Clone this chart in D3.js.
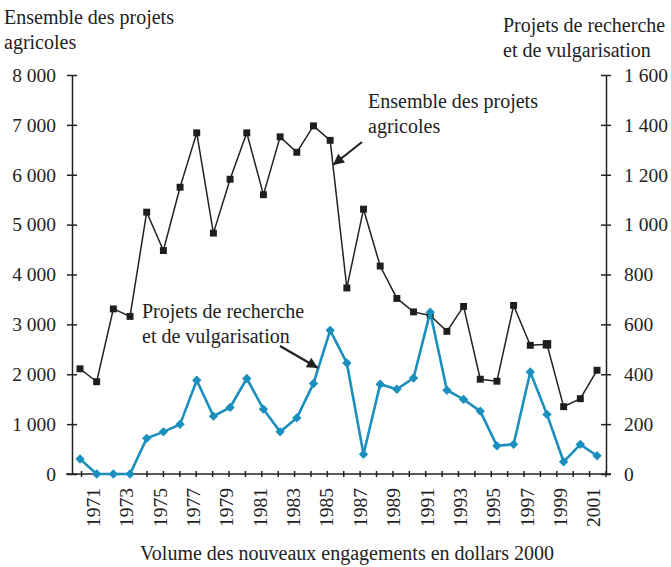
<!DOCTYPE html>
<html>
<head>
<meta charset="utf-8">
<script src="https://cdn.jsdelivr.net/npm/d3@7.9.0/dist/d3.min.js"></script>
<style>
  body { margin: 0; background: #fff; }
  svg { display: block; font-family: "Liberation Serif", "DejaVu Serif", serif; }
  text { fill: #222; }
</style>
</head>
<body>
<svg id="chart" width="671" height="567"></svg>
<script>
const years = [1970, 1971, 1972, 1973, 1974, 1975, 1976, 1977, 1978, 1979,
  1980, 1981, 1982, 1983, 1984, 1985, 1986, 1987, 1988, 1989,
  1990, 1991, 1992, 1993, 1994, 1995, 1996, 1997, 1998, 1999,
  2000, 2001];

// ensemble des projets agricoles (axe de gauche)
const agricoles = [2110, 1850, 3310, 3160, 5250, 4480, 5750, 6840, 4830, 5910,
  6840, 5600, 6760, 6450, 6980, 6690, 3730, 5310, 4170, 3520,
  3250, 3180, 2860, 3360, 1900, 1860, 3380, 2580, 2600, 1350,
  1510, 2080];

// projets de recherche et de vulgarisation (axe de droite)
const recherche = [60, 0, 0, 0, 143, 169, 199, 376, 232, 267,
  383, 260, 169, 225, 363, 576, 445, 79, 360, 340,
  385, 649, 336, 299, 252, 113, 119, 409, 239, 49,
  119, 73];

const leftTicks = [0, 1000, 2000, 3000, 4000, 5000, 6000, 7000, 8000];
const rightTicks = [0, 200, 400, 600, 800, 1000, 1200, 1400, 1600];
const labelYears = [1971, 1973, 1975, 1977, 1979, 1981, 1983, 1985, 1987, 1989,
  1991, 1993, 1995, 1997, 1999, 2001];

const fr = d3.formatLocale({ decimal: ',', thousands: '\u00a0', grouping: [3], currency: ['', ' €'] });
const fmt = fr.format(',d');

const svg = d3.select('#chart');
const ink = '#222';

const x = d3.scaleLinear().domain([1970, 2001]).range([80, 597]);
const xTick = d3.scaleLinear().domain([1970, 2002]).range([81, 605.5]);
const yL = d3.scaleLinear().domain([0, 8000]).range([474, 75]);
const yR = d3.scaleLinear().domain([0, 1600]).range([474, 75]);

// axe gauche
const gL = svg.append('g')
  .attr('transform', 'translate(72,0)')
  .call(d3.axisLeft(yL).tickValues(leftTicks).tickFormat(fmt)
    .tickSize(5).tickSizeOuter(0).tickPadding(11));
gL.selectAll('.tick line').attr('x1', 5);

// axe droit
const gR = svg.append('g')
  .attr('transform', 'translate(606,0)')
  .call(d3.axisRight(yR).tickValues(rightTicks).tickFormat(fmt)
    .tickSize(5).tickSizeOuter(0).tickPadding(13));
gR.selectAll('.tick line').attr('x1', -5);

// axe du bas
const gB = svg.append('g')
  .attr('transform', 'translate(0,474)')
  .call(d3.axisBottom(xTick).tickValues(d3.range(1970, 2003)).tickFormat('')
    .tickSize(3).tickSizeOuter(0));
gB.select('.domain').remove();
gB.selectAll('.tick line').attr('y1', -3);
gB.append('line')
  .attr('x1', 66).attr('x2', 611)
  .attr('stroke', ink).attr('stroke-width', 1.5);

const gLab = svg.append('g')
  .attr('transform', 'translate(0,474)')
  .call(d3.axisBottom(x).tickValues(labelYears).tickFormat(d3.format('d')).tickSize(0));
gLab.select('.domain').remove();
gLab.selectAll('.tick text')
  .attr('transform', 'rotate(-90)')
  .attr('text-anchor', 'end')
  .attr('x', -14)
  .attr('y', -4)
  .attr('dy', '0.35em');

svg.selectAll('.domain, .tick line').attr('stroke', ink).attr('stroke-width', 1.5);
svg.selectAll('.tick text')
  .attr('fill', ink)
  .style('font-family', '"Liberation Serif", serif')
  .style('font-size', '19.5px');

// série agricoles
const lineL = d3.line().x((d, i) => x(years[i])).y(d => yL(d));
svg.append('path')
  .datum(agricoles)
  .attr('d', lineL)
  .attr('fill', 'none')
  .attr('stroke', ink)
  .attr('stroke-width', 1.5);

svg.append('g').selectAll('path')
  .data(agricoles)
  .join('path')
  .attr('transform', (d, i) => `translate(${x(years[i])},${yL(d)})`)
  .attr('d', (d, i) => d3.symbol(d3.symbolSquare, years[i] === 1998 ? 72 : 48)())
  .attr('fill', '#1e1e1e');

// série recherche
const lineR = d3.line().x((d, i) => x(years[i])).y(d => yR(d));
svg.append('path')
  .datum(recherche)
  .attr('d', lineR)
  .attr('fill', 'none')
  .attr('stroke', '#1b8fbd')
  .attr('stroke-width', 2.6);

svg.append('g').selectAll('path')
  .data(recherche)
  .join('path')
  .attr('transform', (d, i) => `translate(${x(years[i])},${yR(d)})`)
  .attr('d', d3.symbol(d3.symbolDiamond2, 56)())
  .attr('fill', '#1b8fbd');

// titres
const t = (xx, yy, s, anchor) => svg.append('text')
  .attr('x', xx).attr('y', yy)
  .attr('text-anchor', anchor || 'start')
  .style('font-size', '20px')
  .text(s);

t(4, 24, 'Ensemble des projets');
t(4, 49, 'agricoles');
t(503, 32, 'Projets de recherche');
t(503, 57, 'et de vulgarisation');
t(347, 560, 'Volume des nouveaux engagements en dollars 2000', 'middle');

// annotations
t(368, 108, 'Ensemble des projets');
t(368, 133, 'agricoles');
t(142, 318, 'Projets de recherche');
t(142, 343, 'et de vulgarisation');

svg.append('defs').append('marker')
  .attr('id', 'head')
  .attr('viewBox', '0 0 10 10')
  .attr('refX', 10).attr('refY', 5)
  .attr('markerWidth', 14).attr('markerHeight', 11)
  .attr('markerUnits', 'userSpaceOnUse')
  .attr('orient', 'auto')
  .append('path')
  .attr('d', 'M0,0L10,5L0,10Z')
  .attr('fill', ink);

const arrow = (x1, y1, x2, y2) => svg.append('line')
  .attr('x1', x1).attr('y1', y1).attr('x2', x2).attr('y2', y2)
  .attr('stroke', ink).attr('stroke-width', 2.2)
  .attr('marker-end', 'url(#head)');

arrow(362, 142, 333, 165);
arrow(280, 346, 318, 368);
</script>
</body>
</html>
